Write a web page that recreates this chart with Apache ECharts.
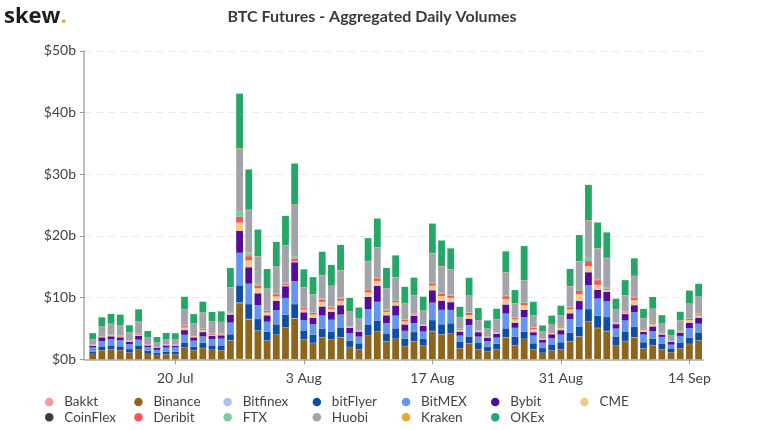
<!DOCTYPE html>
<html>
<head>
<meta charset="UTF-8">
<title>BTC Futures - Aggregated Daily Volumes</title>
<script src="https://cdn.jsdelivr.net/npm/echarts@6/dist/echarts.min.js"></script>
<style>
  html, body { margin: 0; padding: 0; background: #fff; }
  #main { width: 760px; height: 430px; }
</style>
</head>
<body>
<div id="main"></div>
<script>
// daily values in $b
var days = ['11 Jul','12 Jul','13 Jul','14 Jul','15 Jul','16 Jul','17 Jul','18 Jul','19 Jul','20 Jul',
  '21 Jul','22 Jul','23 Jul','24 Jul','25 Jul','26 Jul','27 Jul','28 Jul','29 Jul','30 Jul',
  '31 Jul','1 Aug','2 Aug','3 Aug','4 Aug','5 Aug','6 Aug','7 Aug','8 Aug','9 Aug',
  '10 Aug','11 Aug','12 Aug','13 Aug','14 Aug','15 Aug','16 Aug','17 Aug','18 Aug','19 Aug',
  '20 Aug','21 Aug','22 Aug','23 Aug','24 Aug','25 Aug','26 Aug','27 Aug','28 Aug','29 Aug',
  '30 Aug','31 Aug','1 Sep','2 Sep','3 Sep','4 Sep','5 Sep','6 Sep','7 Sep','8 Sep',
  '9 Sep','10 Sep','11 Sep','12 Sep','13 Sep','14 Sep','15 Sep'];
var tickLabels = ['20 Jul', '3 Aug', '17 Aug', '31 Aug', '14 Sep'];
var yTicks = [0, 10, 20, 30, 40, 50];

var bakkt = [0,0,0,0,0,0,0,0,0,0,
  .02,0,.02,0,0,.02,.08,.06,.04,.03,
  .03,.05,.06,.03,.02,.03,.03,.03,.02,.01,
  .03,.04,.03,.03,.02,.02,.02,.04,.03,.03,
  .01,.02,.01,.01,.01,.03,.02,.03,.01,.01,
  .01,.01,.03,.04,.06,.05,.04,.02,.02,.03,
  .01,.02,.01,.01,.01,.02,.03];
var binance = [.87,1.47,1.58,1.47,1.09,1.52,.87,.71,.82,.82,
  1.85,1.47,1.79,1.52,1.47,2.99,9.02,6.41,4.57,2.99,
  3.91,5.05,6.52,3.15,2.61,3.48,3.15,3.53,1.96,1.63,
  3.75,4.4,2.88,3.26,2.12,2.88,2.17,4.51,3.97,4.08,
  1.79,2.55,1.63,1.25,1.63,3.53,2.23,3.26,1.58,1.03,
  1.41,1.63,2.88,3.64,5.98,5,4.51,2.17,2.93,3.53,
  1.74,2.23,1.58,1.14,1.74,2.45,2.99];
var bitfinex = [.02,.03,.03,.03,.02,.03,.02,.01,.02,.02,
  .04,.03,.04,.03,.03,.06,.12,.08,.06,.04,
  .05,.06,.08,.04,.04,.05,.04,.05,.03,.03,
  .05,.06,.04,.05,.03,.04,.03,.06,.05,.05,
  .03,.04,.03,.02,.03,.05,.03,.04,.03,.02,
  .03,.03,.04,.05,.08,.06,.06,.03,.04,.05,
  .03,.03,.03,.02,.03,.04,.04];
var bitflyer = [.38,.6,.65,.6,.54,.71,.49,.38,.43,.38,
  .76,.54,.82,.71,.76,.98,2.77,2.39,1.85,1.41,
  1.68,2.07,2.28,1.47,1.3,1.41,1.3,1.47,1.03,.92,
  1.74,1.79,1.25,1.68,1.2,1.47,1.14,1.74,1.63,1.68,
  .98,1.09,.98,.76,.87,1.41,1.36,1.14,.98,.76,
  .87,1.09,1.36,1.58,2.01,1.96,2.23,1.47,1.52,1.68,
  .98,1.09,.87,.6,.87,1.03,1.3];
var bitmex = [.65,.87,.98,.98,.82,.92,.6,.43,.65,.71,
  1.3,.98,1.03,1.03,1.09,1.9,5.27,3.32,2.28,1.63,
  2.28,2.72,3.75,1.68,1.74,2.12,1.9,2.17,1.2,1.09,
  2.55,3.04,1.68,2.07,1.25,1.47,1.14,2.83,2.34,2.17,
  1.03,1.85,1.03,.92,.98,2.39,1.47,2.39,1.25,.87,
  1.09,1.25,2.17,2.72,3.91,2.77,2.55,1.3,1.79,2.34,
  1.25,1.2,1.14,.6,1.14,1.52,1.41];
var bybit = [.27,.6,.49,.49,.38,.6,.27,.33,.33,.27,
  .76,.54,.71,.49,.54,1.3,3.53,2.66,1.9,1.03,
  1.52,1.9,3.04,1.25,1.03,1.47,1.25,1.52,.87,.82,
  2.01,2.55,1.25,1.63,1.03,1.2,.92,2.01,1.47,1.25,
  .65,.98,.71,.54,.6,1.47,.82,1.14,.54,.49,
  .65,.71,.98,1.41,2.07,1.41,1.52,.71,1.03,1.14,
  .43,.76,.38,.43,.54,.87,.98];
var cme = [.1,.1,.15,.15,.1,.2,.1,.07,.1,.1,
  .42,.2,.35,.2,.15,.2,1.36,1.14,.82,.45,
  .71,.2,.16,.45,.5,.75,.5,.7,.15,.1,
  .7,.8,.55,.5,.5,.18,.15,.75,.75,.7,
  .3,.65,.15,.1,.15,.9,.55,.75,.45,.15,
  .2,.4,.65,1.1,.98,.82,.35,.18,.25,.8,
  .3,.42,.15,.1,.15,.42,.35];
var coinflex = [0,0,0,0,0,0,0,0,0,0,
  0,0,0,0,0,0,.01,.01,0,0,
  0,0,.01,0,0,0,0,0,0,0,
  0,0,0,0,0,0,0,0,0,0,
  0,0,0,0,0,0,0,0,0,0,
  0,0,0,0,.01,0,0,0,0,0,
  0,0,0,0,0,0,0];
var deribit = [.05,.06,.07,.07,.06,.13,.06,.04,.06,.06,
  .23,.13,.19,.13,.07,.13,.92,.65,.43,.25,
  .38,.18,.43,.25,.26,.39,.26,.39,.07,.06,
  .39,.45,.27,.26,.26,.09,.07,.39,.39,.39,
  .13,.33,.07,.06,.07,.46,.27,.39,.25,.07,
  .13,.2,.33,.53,.82,.76,.19,.09,.13,.4,
  .13,.22,.07,.06,.07,.22,.19];
var ftx = [.03,.05,.05,.05,.03,.06,.03,.02,.03,.03,
  .08,.05,.08,.06,.06,.12,.92,.6,.43,.12,
  .14,.18,.38,.12,.1,.14,.12,.16,.08,.06,
  .16,.2,.12,.14,.09,.1,.08,.18,.14,.14,
  .06,.1,.06,.05,.06,.14,.09,.13,.07,.05,
  .06,.08,.12,.18,.65,.16,.16,.08,.1,.14,
  .06,.08,.06,.04,.06,.09,.1];
var huobi = [.88,1.6,1.76,1.71,1.33,2.02,1.12,.75,.85,.85,
  2.65,1.86,2.55,2.02,1.91,3.97,10.1,6.85,4.3,3.5,
  4.3,6,8.3,3.23,2.92,3.8,3.34,4.4,2.34,1.86,
  4.5,4.8,3.38,3.65,2.61,2.92,2.18,4.65,4.3,4.08,
  1.82,2.7,1.65,1.28,2.09,3.7,2.23,3.5,1.97,1.05,
  1.27,1.74,3.28,4.6,5.85,4.95,4.77,2.01,2.54,3.38,
  1.71,2.13,1.49,.9,1.71,2.33,2.75];
var kraken = [0,.01,.01,.01,.01,.01,0,0,0,0,
  .02,.01,.02,.01,.01,.03,.1,.08,.05,.03,
  .04,.06,.1,.03,.03,.04,.04,.05,.02,.02,
  .05,.06,.04,.04,.03,.03,.02,.06,.05,.04,
  .02,.03,.02,.01,.02,.04,.03,.04,.02,.01,
  .01,.02,.04,.05,.1,.06,.06,.02,.03,.04,
  .02,.02,.01,.01,.02,.03,.03];
var okex = [.98,1.41,1.58,1.68,1.14,1.9,1.03,.87,.98,.98,
  2.01,1.52,1.74,1.47,1.68,3.1,8.86,6.52,4.29,3.15,
  3.97,4.78,6.63,2.88,2.77,3.75,3.37,4.08,2.17,1.79,
  3.7,4.62,3.32,3.53,2.61,2.83,2.23,4.78,4.13,3.37,
  1.68,2.88,1.96,1.3,1.68,3.37,2.12,5.54,2.17,.98,
  1.36,1.52,2.77,4.24,5.76,4.18,4.13,1.74,2.45,2.83,
  1.52,1.9,1.36,.92,1.36,2.12,2.07];

var names = ['Bakkt', 'Binance', 'Bitfinex', 'bitFlyer', 'BitMEX', 'Bybit', 'CME',
  'CoinFlex', 'Deribit', 'FTX', 'Huobi', 'Kraken', 'OKEx'];
var values = [bakkt, binance, bitfinex, bitflyer, bitmex, bybit, cme,
  coinflex, deribit, ftx, huobi, kraken, okex];
var colors = ['#f59a9c', '#8f651c', '#a6c3f3', '#0f4fa3', '#6596ee', '#570a9e', '#efca8a',
  '#3c3c3c', '#fa5454', '#7dcaa2', '#a1a5a9', '#e9a636', '#25a768'];

var font = 'Lato';
var series = [];
for (var s = 0; s < names.length; s++) {
  series.push({
    name: names[s],
    type: 'bar',
    stack: 'volumes',
    xAxisIndex: 1,
    yAxisIndex: 1,
    barWidth: 6.8,
    itemStyle: { color: colors[s] },
    data: values[s]
  });
}

// one legend per name, the columns have a fixed width in the picture
var legends = names.map(function (name, k) {
  return {
    data: [name],
    left: 45 + 89.2 * (k % 7),
    top: 395 + 15.3 * Math.floor(k / 7),
    padding: 0,
    itemWidth: 20, itemHeight: 8.5,
    icon: 'circle',
    textStyle: {
      fontFamily: font, fontSize: 13.5, color: '#444',
      padding: [0, 0, 4, 0]
    }
  };
});

function isTickDay(i) {
  return tickLabels.indexOf(days[i]) >= 0;
}

var myChart = echarts.init(document.getElementById('main'));
myChart.setOption({
  animation: false,
  color: colors,
  title: [
    {
      text: 'BTC Futures - Aggregated Daily Volumes',
      left: 367, top: 4, textAlign: 'center',
      textStyle: { fontFamily: font, fontSize: 16, fontWeight: 'bold', color: '#3a3a3a' }
    },
    {
      text: '{a|skew}{b|.}',
      left: 4, top: 6, padding: 0,
      textStyle: {
        rich: {
          a: { fontFamily: 'Open Sans', fontSize: 22, fontWeight: 'bold', color: '#1d1d1d' },
          b: { fontFamily: 'Open Sans', fontSize: 22, fontWeight: 'bold', color: '#e6a93a' }
        }
      }
    }
  ],
  legend: legends,
  // first grid holds the axis frame, second one the bars: they sit a bit off the y axis
  grid: [
    { left: 84, right: 57, top: 50.8, bottom: 70.7 },
    { left: 88.1, right: 56.8, top: 50.8, bottom: 70.7 }
  ],
  xAxis: [
    {
      gridIndex: 0, type: 'value', min: 0, max: 1,
      splitLine: { show: false },
      axisLine: { show: true, onZero: false, lineStyle: { color: '#aaa', width: 1.5 } },
      axisTick: { show: false },
      axisLabel: { show: false }
    },
    {
      gridIndex: 1, type: 'category', data: days,
      axisLine: { show: false },
      axisTick: { show: true, length: 5, alignWithLabel: true, interval: isTickDay, lineStyle: { color: '#999' } },
      axisLabel: {
        interval: isTickDay,
        fontFamily: font, fontSize: 14, color: '#444', margin: 12
      }
    }
  ],
  yAxis: [
    {
      gridIndex: 0, type: 'value',
      min: yTicks[0], max: yTicks[yTicks.length - 1], interval: 10,
      axisLine: { show: true, onZero: false, lineStyle: { color: '#aaa', width: 1.5 } },
      axisTick: { show: true, length: 4, lineStyle: { color: '#999' } },
      axisLabel: {
        fontFamily: font, fontSize: 14, color: '#444', margin: 8,
        padding: [0, 0, 2, 0],
        formatter: function (v) { return '$' + v + 'b'; }
      },
      splitLine: { show: true, lineStyle: { color: '#e9e9ee', type: [7, 5] } }
    },
    {
      gridIndex: 1, type: 'value', show: false,
      min: yTicks[0], max: yTicks[yTicks.length - 1],
      splitLine: { show: false }
    }
  ],
  series: series
});
</script>
</body>
</html>
